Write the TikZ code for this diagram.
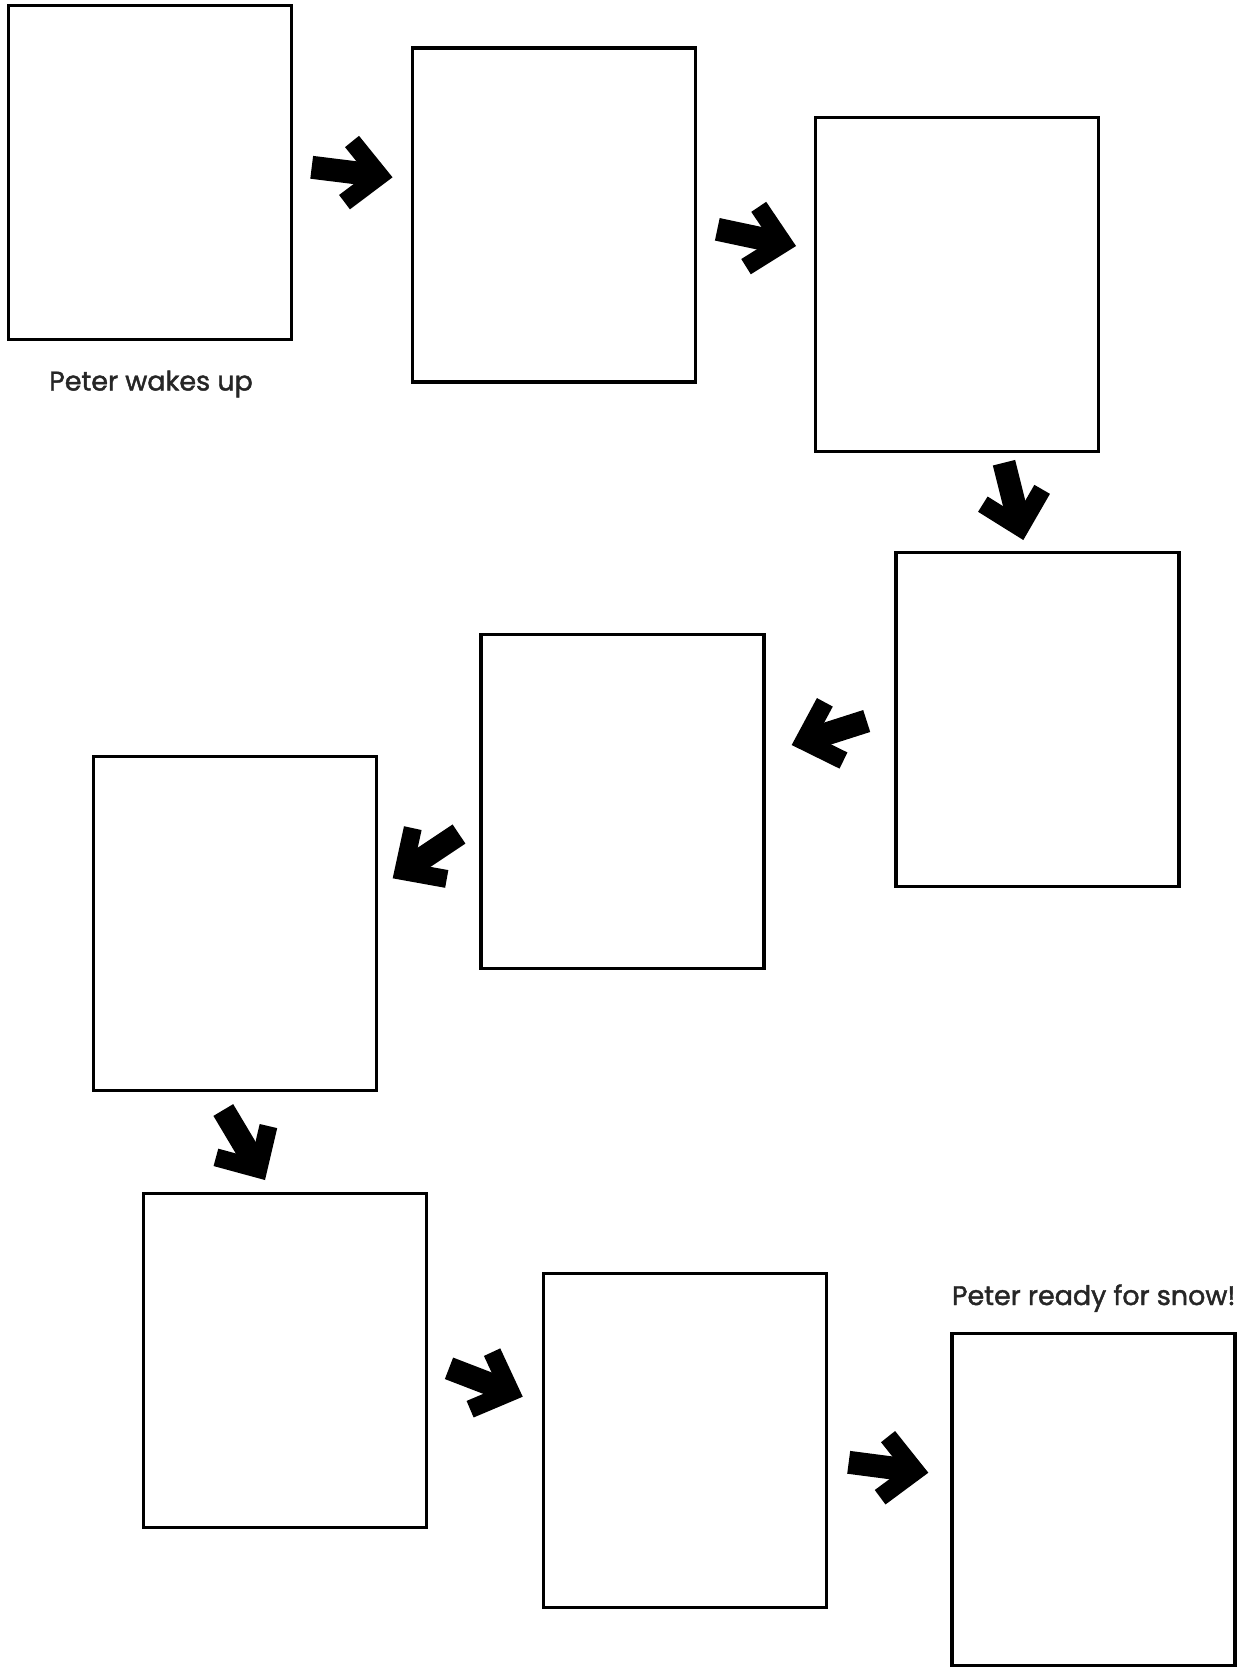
\documentclass[tikz,border=0pt]{standalone}
\usepackage{fontspec}
\setmainfont{Poppins}
\newfontfamily\capfont{Poppins}[FakeBold=1.6]
\usetikzlibrary{calc}
\begin{document}
\begin{tikzpicture}[x=0.75pt,y=-0.75pt,
  panel/.style={draw=black,line width=2.3pt,minimum width=212.25pt,minimum height=250.5pt,inner sep=0pt,outer sep=0pt},
  caption/.style={text=black!85,font=\capfont\fontsize{20.2}{24}\selectfont,inner sep=0pt,anchor=base},
  shaftline/.style={line width=17.25pt,line cap=butt,draw=black},
  armline/.style={line width=13.5pt,line cap=butt,line join=miter,draw=black}]
\useasboundingbox (0,0) rectangle (1245,1668);
% panels
\node[panel] (p1) at (150,172.7) {};
\node[panel] (p2) at (554.4,215) {};
\node[panel] (p3) at (956.6,284.1) {};
\node[panel] (p4) at (1037.5,719.3) {};
\node[panel] (p5) at (622.5,801.3) {};
\node[panel] (p6) at (234.6,923.6) {};
\node[panel] (p7) at (285.2,1360.5) {};
\node[panel] (p8) at (685.3,1440.8) {};
\node[panel,minimum height=249pt] (p9) at (1093.5,1499.5) {};
% captions
\node[caption] (c1) at (151,390.5) {Peter wakes up};
\node[caption] (c9) at (1093.7,1305) {Peter ready for snow!};
% arrow ends
\coordinate (t1) at (311.7,167.3); \coordinate (h1) at (392.5,177.3);
\coordinate (t2) at (717.3,229.3); \coordinate (h2) at (796,246);
\coordinate (t3) at (1004,462.7);  \coordinate (h3) at (1023.3,540);
\coordinate (t4) at (866.7,721);   \coordinate (h4) at (791.7,745);
\coordinate (t5) at (459,834);     \coordinate (h5) at (392.7,878.3);
\coordinate (t6) at (223.3,1110);  \coordinate (h6) at (265,1180);
\coordinate (t7) at (449,1368.3);  \coordinate (h7) at (522.7,1396.7);
\coordinate (t8) at (848.7,1462.3); \coordinate (h8) at (928.3,1472.7);
\foreach \i in {1,...,8} {
  \coordinate (v\i) at ($(h\i)!9.7pt!(t\i)$);
  \coordinate (s\i) at ($(h\i)!12pt!(t\i)$);
  \draw[shaftline] (t\i) -- (s\i);
  \draw[armline] ($(v\i)!33pt!44:(t\i)$) -- (v\i) -- ($(v\i)!33pt!-44:(t\i)$);
}
\end{tikzpicture}
\end{document}
